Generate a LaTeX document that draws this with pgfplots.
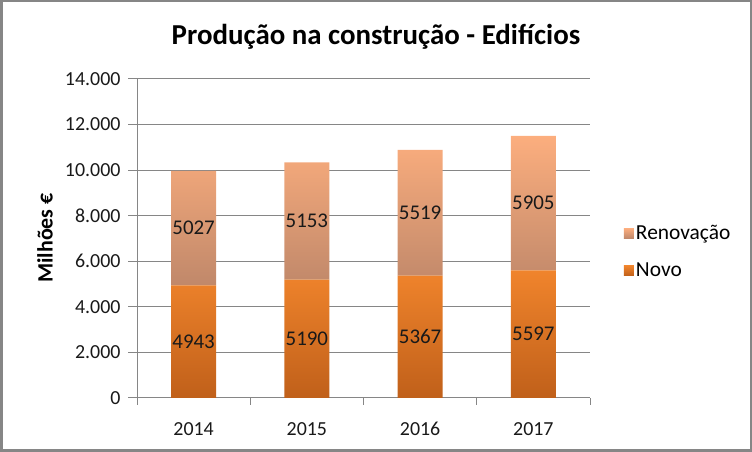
\documentclass[border=0pt]{standalone}
\usepackage{pgfplots}
\pgfplotsset{compat=1.18}
\usepackage{fontspec}
\setmainfont{Carlito}

\definecolor{novotop}{HTML}{F0842C}
\definecolor{novobot}{HTML}{C0601A}
\definecolor{renotop}{HTML}{FCAE7E}
\definecolor{renobot}{HTML}{C0886A}
\definecolor{gridc}{HTML}{868686}

\begin{document}
\begin{tikzpicture}[x=1bp,y=1bp]
\useasboundingbox (0,0) rectangle (752,452);
\draw[gridc, line width=2.5bp] (1.25,1.25) rectangle (750.75,450.75);

\node[font=\fontsize{29}{34}\selectfont\bfseries] at (376,415) {Produção na construção - Edifícios};
\node[rotate=90, font=\fontsize{22}{26}\selectfont\bfseries] at (45,214) {Milhões €};

\begin{axis}[
    at={(137bp,54bp)}, anchor=south west,
    scale only axis, width=453bp, height=319bp,
    ybar stacked, bar width=45bp,
    xmin=-0.5, xmax=3.5, ymin=0, ymax=14000,
    xtick={0,1,2,3}, xticklabels={2014,2015,2016,2017},
    minor xtick={-0.5,0.5,1.5,2.5,3.5},
    ytick={0,2000,...,14000},
    scaled y ticks=false,
    axis x line*=bottom, axis y line*=left,
    axis line style={gridc, line width=1bp},
    tick align=outside,
    major tick length=9bp, minor tick length=7bp,
    xtick style={draw=none},
    minor x tick style={draw=gridc, line width=1bp},
    ytick style={gridc, line width=1bp},
    ymajorgrids,
    major grid style={gridc, line width=1bp},
    tick label style={font=\fontsize{20}{24}\selectfont, text=black!90},
    xticklabel style={yshift=-12bp},
    yticklabel style={xshift=-4bp},
    /pgf/number format/assume math mode=true,
    /pgf/number format/1000 sep={.},
    legend style={draw=none, fill=none, at={(1.068,0.458)}, anchor=west,
        font=\fontsize{21.5}{25}\selectfont, row sep=18bp},
    legend cell align=left,
    reverse legend,
    point meta=explicit,
    nodes near coords={\pgfmathprintnumber[fixed,precision=0,1000 sep={}]{\pgfplotspointmeta}},
    every node near coord/.append style={anchor=center,
        font=\fontsize{21}{25}\selectfont, text=black!90},
]
\addplot[top color=novotop, bottom color=novobot, draw=none,
    legend image code/.code={\fill[novotop!90!novobot] (0bp,-5bp) rectangle (10bp,5bp);}]
    coordinates {(0,4943)[4943] (1,5190)[5190] (2,5367)[5367] (3,5597)[5597]};
\addlegendentry{Novo}
\addplot[top color=renotop, bottom color=renobot, draw=none,
    legend image code/.code={\fill[renotop!70!renobot] (0bp,-5bp) rectangle (10bp,5bp);}]
    coordinates {(0,5027)[5027] (1,5153)[5153] (2,5519)[5519] (3,5905)[5905]};
\addlegendentry{Renovação}
\end{axis}
\end{tikzpicture}
\end{document}
